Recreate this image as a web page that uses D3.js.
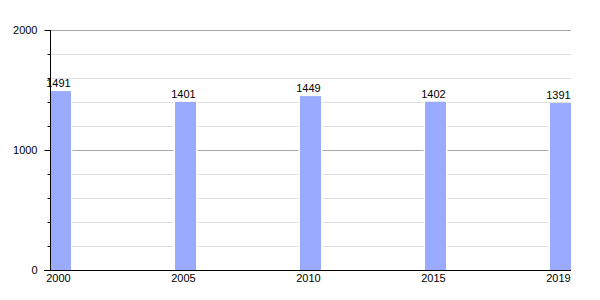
<!DOCTYPE html>
<html>
<head>
<meta charset="utf-8">
<script src="https://cdn.jsdelivr.net/npm/d3@7"></script>
<style>
  body { margin: 0; background: #fff; }
  text { font-family: "Liberation Sans", Arial, sans-serif; font-size: 11px; fill: #000; }
</style>
</head>
<body>
<svg id="chart" width="600" height="300"></svg>
<script>
var years = ['2000', '2005', '2010', '2015', '2019'];
var population = [1491, 1401, 1449, 1402, 1391];
var majorTicks = [0, 1000, 2000];
var minorTicks = [200, 400, 600, 800, 1200, 1400, 1600, 1800];

var svg = d3.select('#chart');

var x = d3.scaleBand()
  .domain(years)
  .range([50, 571])
  .paddingInner(0.832)
  .paddingOuter(0);

var y = d3.scaleLinear()
  .domain([0, 2000])
  .range([270, 30]);

// minor gridlines
svg.append('g').selectAll('line')
  .data(minorTicks)
  .enter().append('line')
  .attr('x1', 50).attr('x2', 571)
  .attr('y1', function (d) { return Math.round(y(d)) + 0.5; })
  .attr('y2', function (d) { return Math.round(y(d)) + 0.5; })
  .attr('stroke', '#e0e0e0');

// major gridlines
svg.append('g').selectAll('line')
  .data(majorTicks.slice(1))
  .enter().append('line')
  .attr('x1', 50).attr('x2', 571)
  .attr('y1', function (d) { return Math.round(y(d)) + 0.5; })
  .attr('y2', function (d) { return Math.round(y(d)) + 0.5; })
  .attr('stroke', '#aaaaaa');

// bars, with a thin white halo that cuts the gridlines
var bars = svg.append('g').selectAll('g')
  .data(years)
  .enter().append('g');

bars.append('rect')
  .attr('x', function (d) { return x(d) - 1.5; })
  .attr('width', x.bandwidth() + 3)
  .attr('y', function (d, i) { return y(population[i]); })
  .attr('height', function (d, i) { return y(0) - y(population[i]); })
  .attr('fill', '#fff');

bars.append('rect')
  .attr('x', function (d) { return x(d); })
  .attr('width', x.bandwidth())
  .attr('y', function (d, i) { return y(population[i]); })
  .attr('height', function (d, i) { return y(0) - y(population[i]); })
  .attr('fill', '#99aaff');

bars.append('text')
  .attr('x', function (d) { return x(d) + x.bandwidth() / 2 - 2; })
  .attr('y', function (d, i) { return y(population[i]) - 4; })
  .attr('text-anchor', 'middle')
  .text(function (d, i) { return population[i]; });

// y axis: long ticks at majors, short ticks at minors
var yAxis = svg.append('g')
  .attr('transform', 'translate(50.5,0)');

yAxis.append('line')
  .attr('y1', y(2000)).attr('y2', y(0))
  .attr('stroke', '#000');

yAxis.selectAll('line.minor')
  .data(minorTicks)
  .enter().append('line')
  .attr('class', 'minor')
  .attr('x1', -3).attr('x2', 0)
  .attr('y1', function (d) { return Math.round(y(d)) + 0.5; })
  .attr('y2', function (d) { return Math.round(y(d)) + 0.5; })
  .attr('stroke', '#000');

yAxis.selectAll('line.major')
  .data(majorTicks)
  .enter().append('line')
  .attr('class', 'major')
  .attr('x1', -6).attr('x2', 0)
  .attr('y1', function (d) { return Math.round(y(d)) + 0.5; })
  .attr('y2', function (d) { return Math.round(y(d)) + 0.5; })
  .attr('stroke', '#000');

yAxis.selectAll('text')
  .data(majorTicks)
  .enter().append('text')
  .attr('x', -13)
  .attr('y', function (d) { return y(d); })
  .attr('dy', '0.35em')
  .attr('text-anchor', 'end')
  .text(function (d) { return d; });

// x axis
var xAxis = svg.append('g')
  .attr('transform', 'translate(0,' + (y(0) + 0.5) + ')');

xAxis.append('line')
  .attr('x1', 44).attr('x2', 571)
  .attr('stroke', '#000');

xAxis.selectAll('text')
  .data(years)
  .enter().append('text')
  .attr('x', function (d) { return x(d) + x.bandwidth() / 2 - 2; })
  .attr('y', 11)
  .attr('text-anchor', 'middle')
  .text(function (d) { return d; });
</script>
</body>
</html>
